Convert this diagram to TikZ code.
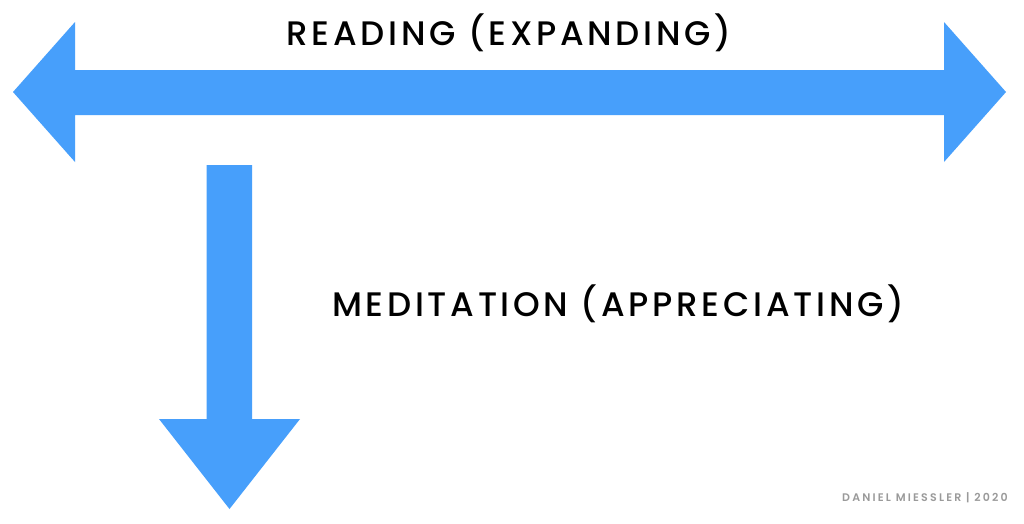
\documentclass[tikz,border=0pt]{standalone}
\usepackage{fontspec}
\setmainfont{Poppins Medium}
\newfontfamily\signfont{Poppins SemiBold}
\definecolor{arrowblue}{HTML}{479FFB}
\definecolor{signgray}{HTML}{9A9A9A}
\tikzset{
  x=1pt,y=-1pt,
  arrowshape/.style={fill=arrowblue,draw=none},
  bigtext/.style={inner sep=0pt,text=black,font=\fontsize{34}{36}\selectfont\addfontfeature{LetterSpace=10.9}},
  signtext/.style={inner sep=0pt,text=signgray,font=\signfont\fontsize{11}{12}\selectfont\addfontfeature{LetterSpace=20}}
}
\begin{document}
\begin{tikzpicture}
\useasboundingbox (0,0) rectangle (1024,523);
\fill[white] (0,0) rectangle (1024,523);
\fill[arrowshape] (13,92) -- (75,22) -- (75,70) -- (944,70) -- (944,22) -- (1006,92) -- (944,162) -- (944,115) -- (75,115) -- (75,162) -- cycle;
\fill[arrowshape] (206.5,165) -- (252,165) -- (252,419) -- (300,419) -- (229.5,509) -- (159,419) -- (206.5,419) -- cycle;
\node[bigtext] (reading) at (509,33) {READING (EXPANDING)};
\node[bigtext] (meditation) at (618,304) {MEDITATION (APPRECIATING)};
\node[signtext] (sign) at (925,498) {DANIEL MIESSLER | 2020};
\end{tikzpicture}
\end{document}
